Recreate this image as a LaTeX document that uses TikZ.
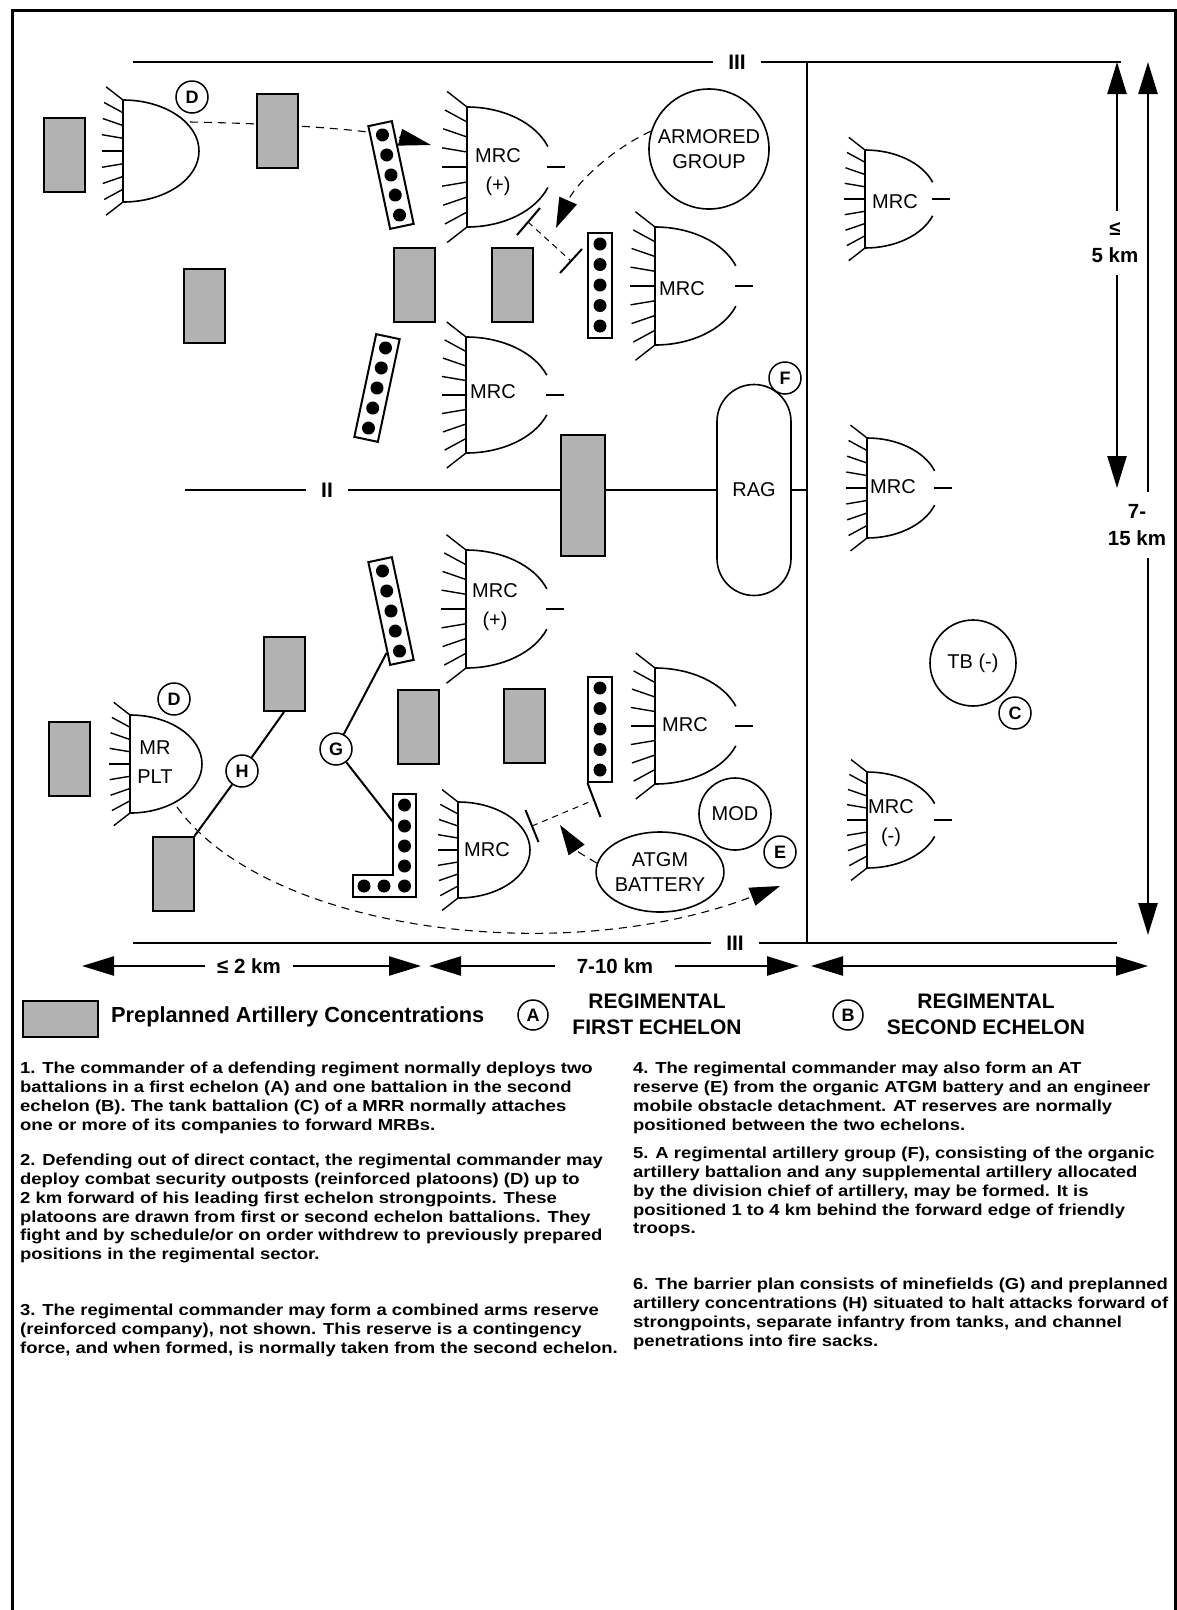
\documentclass[tikz,border=0pt]{standalone}
\usepackage{fontspec}
\setmainfont{Liberation Sans}
\newfontfamily\notefont{Liberation Sans}[FakeStretch=1.16]
\usetikzlibrary{arrows.meta,positioning,shapes.geometric}

\tikzstyle{outline} = [line width=1.6pt]
\tikzstyle{tick} = [line width=1.4pt]
\tikzstyle{lbl} = [inner sep=0pt, align=center, font=\fontsize{20}{29}\selectfont]
\tikzstyle{tag} = [circle, draw, fill=white, line width=1.5pt, minimum size=32pt, inner sep=0pt, font=\fontsize{18}{18}\selectfont\bfseries]
\tikzstyle{art} = [rectangle, draw, line width=2pt, fill=black!30, minimum width=41pt, minimum height=74pt]
\tikzstyle{mine} = [rectangle, draw, line width=2pt, fill=white, minimum width=24pt, minimum height=105pt, inner sep=0pt]
\tikzstyle{unit} = [draw, line width=1.6pt, fill=white, inner sep=0pt, align=center, font=\fontsize{20}{25}\selectfont]
\tikzstyle{route} = [dash pattern=on 8pt off 6pt, line width=1.1pt, -{Triangle[length=30pt,width=19pt]}]
\tikzstyle{barrier} = [line width=2pt]
\tikzstyle{dim} = [line width=2.4pt, -{Triangle[length=32pt,width=19pt]}]
\tikzstyle{dimtext} = [inner sep=12pt, align=center, font=\fontsize{20.5}{27}\selectfont\bfseries]
\tikzstyle{phase} = [line width=2.6pt]
\tikzstyle{echelon} = [fill=white, inner xsep=15pt, inner ysep=2pt, font=\fontsize{21}{21}\selectfont\bfseries]
\tikzstyle{legend} = [inner sep=0pt, align=center, font=\fontsize{21}{26}\selectfont\bfseries]
\tikzstyle{note} = [anchor=north west, inner sep=0pt, align=left, font=\notefont\fontsize{15.9}{18.8}\selectfont\bfseries]

% strongpoint: name, left centre, half height, depth, open (1) or closed (0)
\newcommand{\strongpoint}[5]{%
  \begin{scope}[shift={(#2)}]
    \coordinate (#1) at (0,0);
    \foreach \i in {0,...,8}{
      \pgfmathsetmacro\tky{-#3+\i*#3/4}
      \pgfmathsetmacro\tka{180+38*\tky/#3}
      \pgfmathsetmacro\tkl{0.42*#3}
      \draw[tick] (0,\tky) -- ++(\tka:\tkl pt);
    }
    \ifnum#5=1
      \draw[outline] (0,#3) -- (0,-#3) arc[start angle=90, end angle=20, x radius=#4pt, y radius=#3pt];
      \draw[outline] (0,#3) arc[start angle=-90, end angle=-20, x radius=#4pt, y radius=#3pt];
      \draw[outline] (0.93*#4,0) -- ++(18,0);
    \else
      \draw[outline] (0,#3) -- (0,-#3) arc[start angle=90, end angle=-90, x radius=#4pt, y radius=#3pt] -- cycle;
    \fi
  \end{scope}}

% minefield bar: name, centre, angle, number of mines
\newcommand{\minebar}[4]{%
  \node[mine, rotate=#3] (#1) at (#2) {};
  \begin{scope}[shift={(#2)}, rotate=#3]
    \foreach \k in {1,...,#4}
      \fill ({0},{(\k-(#4+1)/2)*20.5}) circle (6.5);
  \end{scope}}

\begin{document}
\begin{tikzpicture}[x=1pt, y=-1pt]
\useasboundingbox (0,0) rectangle (1177,1610);
\draw[line width=3pt] (12,1620) -- (12,10) -- (1175,10) -- (1175,1620);

% boundaries
\coordinate (phtl) at (133,62);
\coordinate (phtr) at (1121,62);
\coordinate (phbl) at (133,943);
\coordinate (phbr) at (1117,943);
\coordinate (vtop) at (807,62);
\coordinate (vbot) at (807,943);
\coordinate (iil) at (185,490);
\draw[phase] (phtl) -- (phtr);
\draw[phase] (phbl) -- (phbr);
\draw[line width=2pt] (vtop) -- (vbot);
\node[echelon] (top3) at (737,62) {III};
\node[echelon] (bot3) at (735,943) {III};
\node[unit, rounded corners=37pt, minimum width=74pt, minimum height=211pt] (rag) at (754,490) {RAG};
\draw[line width=1.8pt] (iil) -- (rag.west);
\draw[line width=1.8pt] (rag.east) -- (rag.east -| vtop);
\node[echelon] (mid2) at (327,490) {II};

% withdrawal and counterattack routes
\coordinate (dstart) at (190,122);
\coordinate (dtip) at (431,145);
\coordinate (agtip) at (556,228);
\coordinate (attip) at (560,825);
\coordinate (pltstart) at (177,807);
\coordinate (plttip) at (780,886);
\node[unit, circle, minimum size=120pt] (ag) at (709,149) {ARMORED\\GROUP};
\node[unit, ellipse, minimum width=125pt, minimum height=80pt] (atgm) at (660,872) {ATGM\\BATTERY};
\draw[route, -{Triangle[length=32pt,width=17pt]}] (dstart) .. controls (300,124) and (375,131) .. (dtip);
\draw[route] (ag.163) .. controls (610,150) and (575,185) .. (agtip);
\draw[route] (atgm.172) .. controls (578,852) .. (attip);
\draw[route] (pltstart) .. controls (265,930) and (560,970) .. (plttip);

% artillery concentrations
\node[art] (art1) at (64,155) {};
\node[art] (art2) at (277,131) {};
\node[art] (art3) at (204,306) {};
\node[art] (art4) at (414,285) {};
\node[art] (art5) at (512,285) {};
\node[art, minimum width=44pt, minimum height=121pt] (art6) at (583,495) {};
\node[art] (art7) at (69,759) {};
\node[art] (art8) at (284,674) {};
\node[art] (art9) at (173,874) {};
\node[art] (art10) at (418,727) {};
\node[art] (art11) at (524,726) {};

% strongpoints
\strongpoint{sp1}{123,151}{51}{76}{0}
\strongpoint{sp2}{467,167}{60}{86}{1}
\strongpoint{sp3}{655,286}{59}{86}{1}
\strongpoint{sp4}{466,395}{58}{86}{1}
\strongpoint{sp5}{466,609}{59}{86}{1}
\strongpoint{sp6}{655,726}{58}{86}{1}
\strongpoint{sp7}{458,850}{48}{72}{0}
\strongpoint{sp8}{130,764}{49}{72}{0}
\strongpoint{sp9}{865,199}{49}{72}{1}
\strongpoint{sp10}{867,488}{50}{72}{1}
\strongpoint{sp11}{867,820}{48}{72}{1}
\node[lbl] (sp2t) at (498,172) {MRC\\(+)};
\node[lbl] (sp3t) at (682,289) {MRC};
\node[lbl] (sp4t) at (493,392) {MRC};
\node[lbl] (sp5t) at (495,607) {MRC\\(+)};
\node[lbl] (sp6t) at (685,725) {MRC};
\node[lbl] (sp7t) at (487,850) {MRC};
\node[lbl] (sp8t) at (155,762) {MR\\PLT};
\node[lbl] (sp9t) at (895,202) {MRC};
\node[lbl] (sp10t) at (893,487) {MRC};
\node[lbl] (sp11t) at (891,823) {MRC\\(-)};

% minefields
\minebar{mf1}{391,175}{12}{5}
\minebar{mf2}{600,285}{0}{5}
\minebar{mf3}{377,388}{-12}{5}
\minebar{mf4}{391,611}{12}{5}
\minebar{mf6}{600,729}{0}{5}
\draw[line width=2pt, fill=white] (393,794) -- (416,794) -- (416,897) -- (353,897) -- (353,875) -- (393,875) -- cycle;
\foreach \yy in {805,826,846,866,886} \fill (404.5,\yy) circle (6.5);
\foreach \xx in {364,384} \fill (\xx,886) circle (6.5);
\coordinate (mf5) at (393,822);

% obstacles
\coordinate (ob1) at (528,222);
\coordinate (ob2) at (571,261);
\coordinate (ob3) at (532,826);
\coordinate (ob4) at (594,800);
\draw[barrier] (ob1) ++(-11,13) -- ++(23,-27);
\draw[barrier] (ob2) ++(-11,12) -- ++(22,-24);
\draw[barrier] (ob3) ++(-6.5,-16) -- ++(13,32);
\draw[barrier] (ob4) ++(-6.5,-17) -- ++(13,34);
\draw[dash pattern=on 6pt off 5pt, line width=1pt] (ob1) -- (ob2);
\draw[dash pattern=on 6pt off 5pt, line width=1pt] (ob3) -- (ob4);

% other units
\node[unit, circle, minimum size=86pt] (tb) at (973,663) {TB (-)};
\node[unit, circle, minimum size=72pt] (mod) at (735,814) {MOD};

% letter tags
\node[tag] (d1) at (192,97) {D};
\node[tag] (d2) at (174,699) {D};
\node[tag] (f) at (785,378) {F};
\node[tag] (e) at (780,852) {E};
\node[tag] (c) at (1015,713) {C};
\node[tag] (g) at (336,749) {G};
\node[tag] (h) at (242,771) {H};
\draw[line width=2pt] (g) -- (mf4.252);
\draw[line width=2pt] (g) -- (mf5);
\draw[line width=2pt] (h) -- (art8.south);
\draw[line width=2pt] (h) -- (art9.north east);

% distances
\coordinate (km5top) at (1117,62);
\coordinate (km5bot) at (1117,488);
\coordinate (km15top) at (1148,62);
\coordinate (km15bot) at (1148,935);
\node[dimtext] (km5) at (1115,243) {≤\\5 km};
\node[dimtext] (km15) at (1137,525) {7-\\15 km};
\draw[dim] (km5.north -| km5top) -- (km5top);
\draw[dim] (km5.south -| km5top) -- (km5bot);
\draw[dim] (km15.north -| km15top) -- (km15top);
\draw[dim] (km15.south -| km15top) -- (km15bot);
\coordinate (km2l) at (82,966);
\coordinate (km2r) at (421,966);
\coordinate (km710l) at (429,966);
\coordinate (km710r) at (799,966);
\coordinate (sel) at (811,966);
\coordinate (ser) at (1148,966);
\node[dimtext] (km2) at (249,966) {≤ 2 km};
\node[dimtext, inner xsep=22pt] (km710) at (615,966) {7-10 km};
\draw[dim] (km2) -- (km2l);
\draw[dim] (km2) -- (km2r);
\draw[dim] (km710) -- (km710l);
\draw[dim] (km710) -- (km710r);
\draw[dim, {Triangle[length=32pt,width=19pt]}-{Triangle[length=32pt,width=19pt]}] (sel) -- (ser);

% legend
\node[art, minimum width=75pt, minimum height=36pt] (artkey) at (60,1019) {};
\node[legend, anchor=west, font=\fontsize{21.8}{26}\selectfont\bfseries] (artkeyt) at (111,1017) {Preplanned Artillery Concentrations};
\node[tag, minimum size=30pt] (a) at (533,1015) {A};
\node[legend] (at) at (657,1014) {REGIMENTAL\\FIRST ECHELON};
\node[tag, minimum size=30pt] (b) at (848,1015) {B};
\node[legend] (bt) at (986,1014) {REGIMENTAL\\SECOND ECHELON};

% notes
\node[note] (n1) at (20,1062) {1. The commander of a defending regiment normally deploys two\\battalions in a first echelon (A) and one battalion in the second\\echelon (B). The tank battalion (C) of a MRR normally attaches\\one or more of its companies to forward MRBs.};
\node[note] (n2) at (20,1154) {2. Defending out of direct contact, the regimental commander may\\deploy combat security outposts (reinforced platoons) (D) up to\\2 km forward of his leading first echelon strongpoints. These\\platoons are drawn from first or second echelon battalions. They\\fight and by schedule/or on order withdrew to previously prepared\\positions in the regimental sector.};
\node[note] (n3) at (20,1304) {3. The regimental commander may form a combined arms reserve\\(reinforced company), not shown. This reserve is a contingency\\force, and when formed, is normally taken from the second echelon.};
\node[note] (n4) at (633,1062) {4. The regimental commander may also form an AT\\reserve (E) from the organic ATGM battery and an engineer\\mobile obstacle detachment. AT reserves are normally\\positioned between the two echelons.};
\node[note] (n5) at (633,1147) {5. A regimental artillery group (F), consisting of the organic\\artillery battalion and any supplemental artillery allocated\\by the division chief of artillery, may be formed. It is\\positioned 1 to 4 km behind the forward edge of friendly\\troops.};
\node[note] (n6) at (633,1278) {6. The barrier plan consists of minefields (G) and preplanned\\artillery concentrations (H) situated to halt attacks forward of\\strongpoints, separate infantry from tanks, and channel\\penetrations into fire sacks.};
\end{tikzpicture}
\end{document}
